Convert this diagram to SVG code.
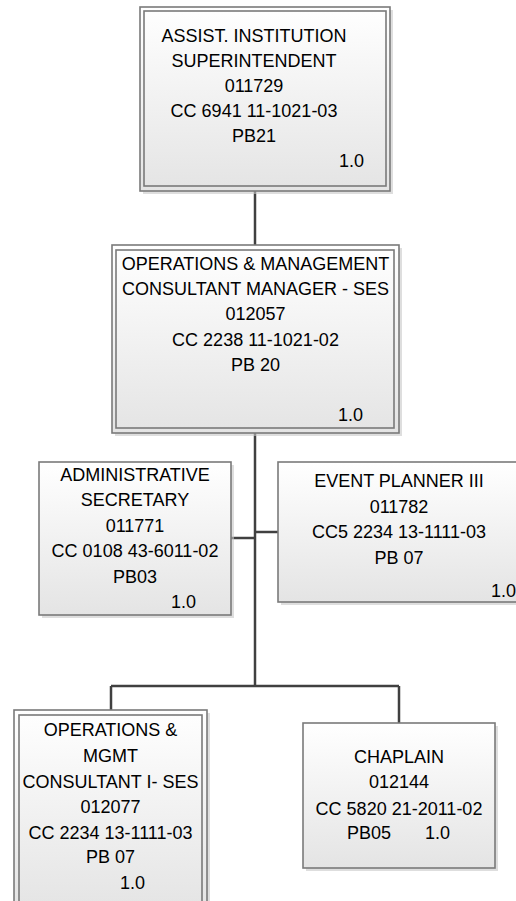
<svg xmlns="http://www.w3.org/2000/svg" width="516" height="901" viewBox="0 0 516 901">
<defs>
<linearGradient id="g" x1="0" y1="0" x2="0" y2="1">
<stop offset="0" stop-color="#ffffff"/>
<stop offset="1" stop-color="#e4e4e4"/>
</linearGradient>
</defs>
<style>
.sh{fill:#c8c8c8;opacity:0.6}
.bx{fill:url(#g);stroke:#7a7a7a;stroke-width:1.6}
.in{fill:none;stroke:#7a7a7a;stroke-width:1.6}
.c{fill:none;stroke:#404040;stroke-width:2.5}
text{font-family:"Liberation Sans",Arial,sans-serif;font-size:18px;fill:#000}
.m{text-anchor:middle}
</style>
<rect width="516" height="901" fill="#fff"/>
<g id="connectors">
<path class="c" d="M255 191V245"/>
<path class="c" d="M255 433V686"/>
<path class="c" d="M231 538H255"/>
<path class="c" d="M255 532H278"/>
<path class="c" d="M111 686H399M111 686V710M399 686V723"/>
</g>
<g id="n1">
<rect class="sh" x="143" y="10" width="250" height="184"/>
<rect class="bx" x="140" y="7" width="250" height="184"/>
<rect class="in" x="144" y="11" width="242" height="175"/>
<text class="m" x="254" y="42">ASSIST. INSTITUTION</text>
<text class="m" x="254" y="67">SUPERINTENDENT</text>
<text class="m" x="254" y="92">011729</text>
<text class="m" x="254" y="117">CC 6941 11-1021-03</text>
<text class="m" x="254" y="142">PB21</text>
<text x="339" y="167">1.0</text>
</g>
<g id="n2">
<rect class="sh" x="115" y="248" width="287" height="188"/>
<rect class="bx" x="112" y="245" width="287" height="188"/>
<rect class="in" x="116" y="250" width="278" height="178"/>
<text class="m" x="255.5" y="270">OPERATIONS &amp; MANAGEMENT</text>
<text class="m" x="255.5" y="295">CONSULTANT MANAGER - SES</text>
<text class="m" x="255.5" y="320">012057</text>
<text class="m" x="255.5" y="346">CC 2238 11-1021-02</text>
<text class="m" x="255.5" y="371">PB 20</text>
<text x="338" y="421">1.0</text>
</g>
<g id="n3">
<rect class="sh" x="42" y="465" width="192" height="153"/>
<rect class="bx" x="39" y="462" width="192" height="153"/>
<text class="m" x="135" y="481">ADMINISTRATIVE</text>
<text class="m" x="135" y="506">SECRETARY</text>
<text class="m" x="135" y="532">011771</text>
<text class="m" x="135" y="557">CC 0108 43-6011-02</text>
<text class="m" x="135" y="583">PB03</text>
<text x="171" y="608">1.0</text>
</g>
<g id="n4">
<rect class="sh" x="281" y="465" width="242" height="140"/>
<rect class="bx" x="278" y="462" width="242" height="140"/>
<text class="m" x="399" y="487">EVENT PLANNER III</text>
<text class="m" x="399" y="513">011782</text>
<text class="m" x="399" y="538">CC5 2234 13-1111-03</text>
<text class="m" x="399" y="564">PB 07</text>
<text x="491" y="597">1.0</text>
</g>
<g id="n5">
<rect class="sh" x="17" y="713" width="193" height="200"/>
<rect class="bx" x="14" y="710" width="193" height="200"/>
<rect class="in" x="19" y="715" width="183" height="200"/>
<text class="m" x="110.5" y="736">OPERATIONS &amp;</text>
<text class="m" x="110.5" y="762">MGMT</text>
<text class="m" x="110.5" y="788">CONSULTANT I- SES</text>
<text class="m" x="110.5" y="813">012077</text>
<text class="m" x="110.5" y="839">CC 2234 13-1111-03</text>
<text class="m" x="110.5" y="863">PB 07</text>
<text x="120" y="889">1.0</text>
</g>
<g id="n6">
<rect class="sh" x="306" y="726" width="192" height="145"/>
<rect class="bx" x="303" y="723" width="192" height="145"/>
<text class="m" x="399" y="763">CHAPLAIN</text>
<text class="m" x="399" y="788">012144</text>
<text class="m" x="399" y="815">CC 5820 21-2011-02</text>
<text x="347" y="839">PB05</text>
<text x="425" y="839">1.0</text>
</g>
</svg>
